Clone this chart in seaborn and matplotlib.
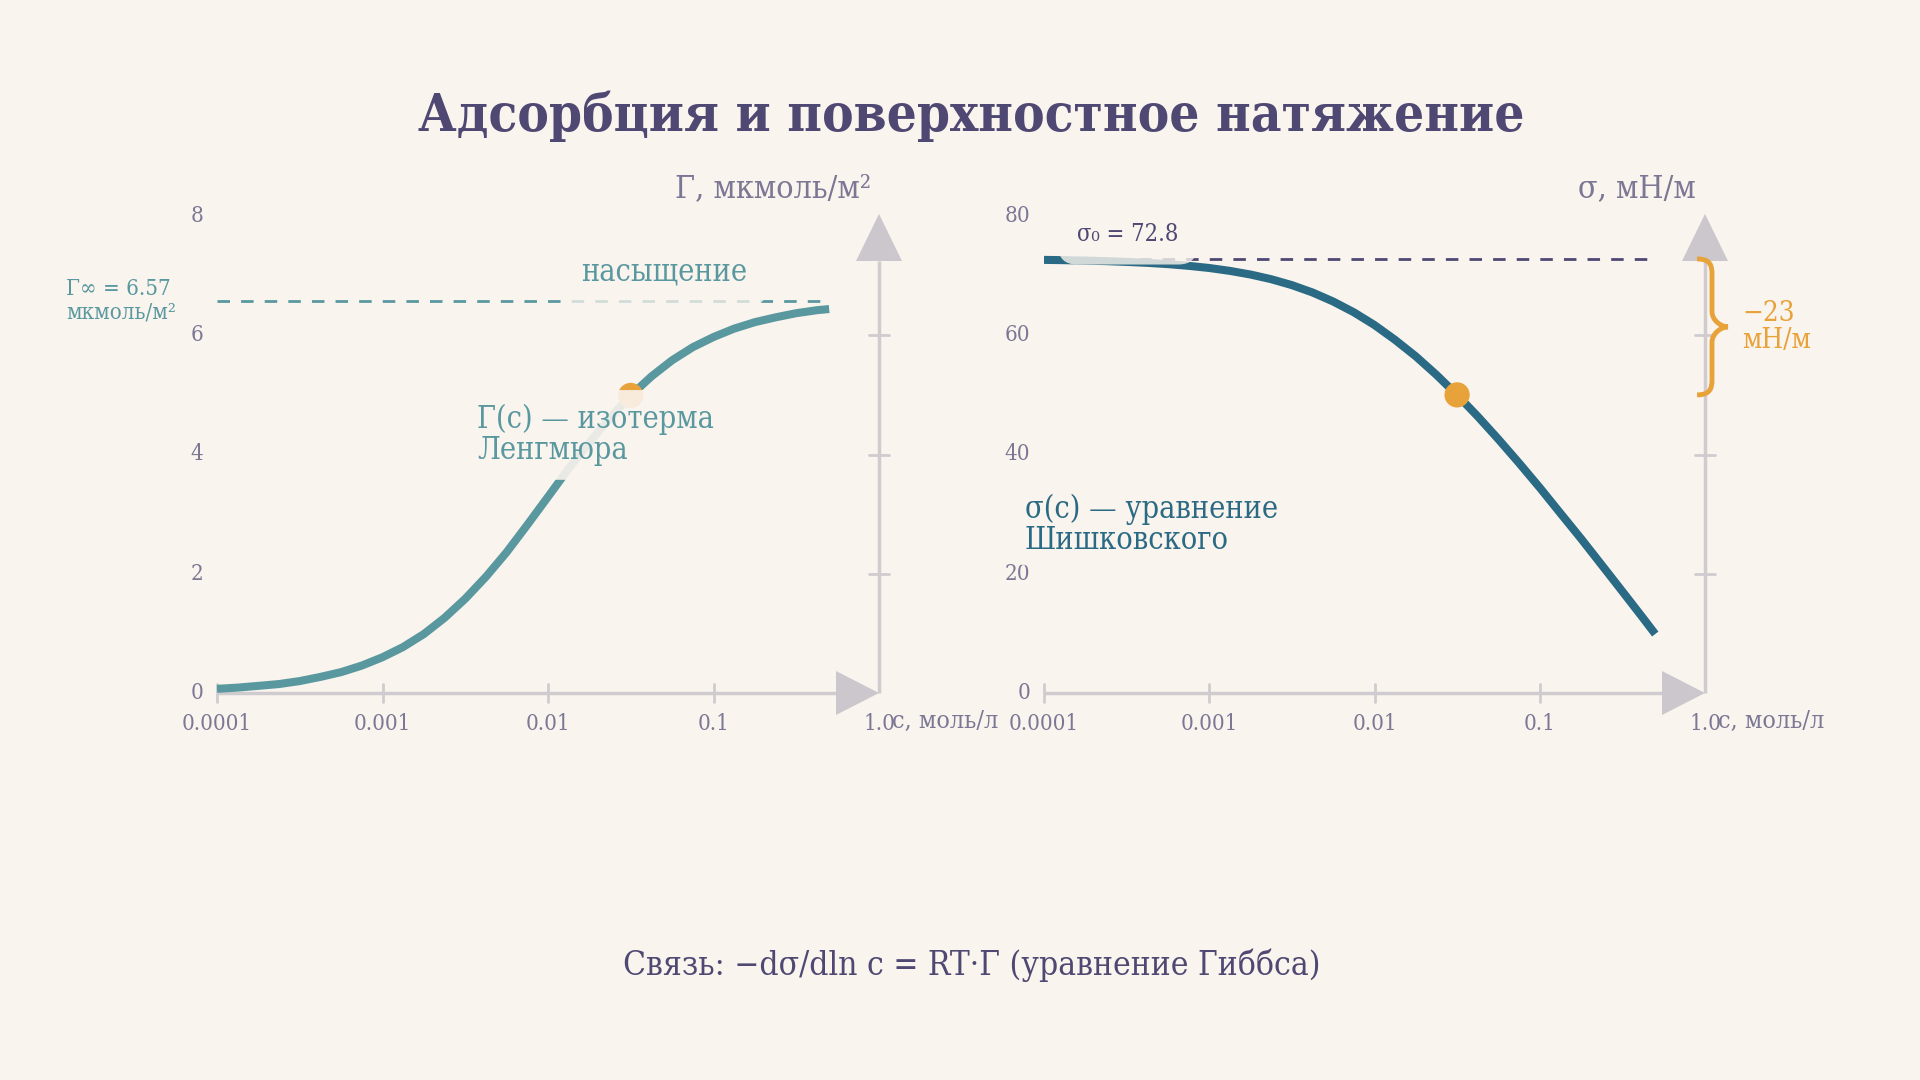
import seaborn as sns
import matplotlib.pyplot as plt
import matplotlib.transforms as mtransforms
from matplotlib.path import Path
from matplotlib.patches import PathPatch, Polygon

# --- данные ---
conc = [0.0001, 0.000133, 0.000178, 0.000237, 0.000316, 0.000422, 0.000562, 0.00075,
        0.001, 0.00133, 0.00178, 0.00237, 0.00316, 0.00422, 0.00562, 0.0075,
        0.01, 0.0133, 0.0178, 0.0237, 0.0316, 0.0422, 0.0562, 0.075,
        0.1, 0.133, 0.178, 0.237, 0.316, 0.422, 0.5]
gamma = [0.07, 0.09, 0.12, 0.15, 0.20, 0.27, 0.35, 0.46,
         0.60, 0.77, 0.99, 1.26, 1.58, 1.95, 2.36, 2.82,
         3.29, 3.76, 4.20, 4.62, 4.99, 5.31, 5.58, 5.80,
         5.97, 6.11, 6.22, 6.30, 6.37, 6.42, 6.44]
sigma = [72.64, 72.59, 72.52, 72.43, 72.30, 72.14, 71.93, 71.64,
         71.28, 70.80, 70.18, 69.40, 68.41, 67.17, 65.66, 63.85,
         61.71, 59.24, 56.45, 53.36, 49.99, 46.37, 42.56, 38.56,
         34.44, 30.19, 25.87, 21.48, 17.05, 12.56, 9.89]

gamma_inf = 6.57
sigma_0 = 72.8
c_point = 0.0316
gamma_point = 4.99
sigma_point = 50.0

x_ticks = [0.0001, 0.001, 0.01, 0.1, 1.0]
x_tick_labels = ['0.0001', '0.001', '0.01', '0.1', '1.0']
gamma_ticks = [0, 2, 4, 6, 8]
sigma_ticks = [0, 20, 40, 60, 80]

# --- цвета ---
BG = '#FAF4EE'
TITLE = '#4E4873'
TICK = '#7B7794'
TEAL = '#5A989F'
BLUE = '#2B6A84'
ORANGE = '#E8A23A'
AXIS = '#CFCBCF'
ARROW = '#CBC7CC'

sns.set_theme(style='white', rc={'figure.facecolor': BG, 'axes.facecolor': BG})
plt.rcParams['font.family'] = ['DejaVu Serif', 'DejaVu Sans']
plt.rcParams['font.stretch'] = 'condensed'

fig = plt.figure(figsize=(19.2, 10.8), dpi=100)
ax1 = fig.add_axes([217 / 1920, 387 / 1080, 662 / 1920, 477 / 1080])
ax2 = fig.add_axes([1044 / 1920, 387 / 1080, 661 / 1920, 477 / 1080])

halo = dict(boxstyle='round,pad=0.3', fc=BG, ec='none', alpha=0.85)


def oformit_osi(ax, yticks, px_w):
    ax.set_xscale('log')
    ax.set_xlim(x_ticks[0], x_ticks[-1])
    ax.set_ylim(yticks[0], yticks[-1])
    ax.axis('off')
    dx = 1 / px_w
    dy = 1 / 477
    # оси со стрелками
    ax.plot([0, 1 - 43 * dx], [0, 0], transform=ax.transAxes, color=AXIS, lw=2.5,
            clip_on=False, solid_capstyle='butt', zorder=1)
    ax.plot([1, 1], [0, 1 - 45 * dy], transform=ax.transAxes, color=AXIS, lw=2.5,
            clip_on=False, solid_capstyle='butt', zorder=1)
    ax.add_patch(Polygon([[1, 0], [1 - 43 * dx, 22 * dy], [1 - 43 * dx, -22 * dy]],
                         closed=True, transform=ax.transAxes, fc=ARROW, ec='none',
                         clip_on=False, zorder=1))
    ax.add_patch(Polygon([[1, 1 + 2 * dy], [1 - 23 * dx, 1 - 45 * dy], [1 + 23 * dx, 1 - 45 * dy]],
                         closed=True, transform=ax.transAxes, fc=ARROW, ec='none',
                         clip_on=False, zorder=1))
    # засечки
    bx = mtransforms.blended_transform_factory(ax.transData, ax.transAxes)
    by = mtransforms.blended_transform_factory(ax.transAxes, ax.transData)
    for t in x_ticks[:-1]:
        ax.plot([t, t], [-9 * dy, 9 * dy], transform=bx, color=AXIS, lw=2,
                clip_on=False, zorder=1)
    for t in yticks[1:-1]:
        ax.plot([1 - 10 * dx, 1 + 10 * dx], [t, t], transform=by, color=AXIS, lw=2,
                clip_on=False, zorder=1)
    # подписи
    for t, lab in zip(x_ticks, x_tick_labels):
        ax.text(t, -31 * dy, lab, transform=bx, ha='center', va='center', fontsize=16,
                color=TICK, bbox=halo, zorder=5)
    for t in yticks:
        ax.text(-14 * dx, t, str(t), transform=by, ha='right', va='center', fontsize=16,
                color=TICK, bbox=halo, zorder=5)
    ax.text(1 + 13 * dx, -28 * dy, 'c, моль/л', transform=ax.transAxes, ha='left',
            va='center', fontsize=18, color=TICK, zorder=5)


# --- левая панель: адсорбция ---
oformit_osi(ax1, gamma_ticks, 662)
sns.lineplot(x=conc, y=gamma, ax=ax1, color=TEAL, lw=5.8, zorder=3,
             solid_joinstyle='round', solid_capstyle='butt')
ax1.plot([conc[0], conc[-1]], [gamma_inf, gamma_inf], color=TEAL, lw=2,
         dashes=(4.5, 4), zorder=2)
sns.scatterplot(x=[c_point], y=[gamma_point], ax=ax1, s=330, color=ORANGE,
                edgecolor='none', zorder=4)
ax1.text(0.988, 1.057, 'Γ, мкмоль/м²', transform=ax1.transAxes, ha='right', va='center',
         fontsize=23, color=TICK, zorder=5)
ax1.text(0.675, 0.883, 'насыщение', transform=ax1.transAxes, ha='center', va='center',
         fontsize=22, color=TEAL, zorder=6,
         bbox=dict(boxstyle='round,pad=0.65', fc=BG, ec='none', alpha=0.75))
ax1.text(-0.228, 0.822, f'Γ∞ = {gamma_inf}\nмкмоль/м²', transform=ax1.transAxes,
         ha='left', va='center', fontsize=16, color=TEAL, linespacing=1.05, zorder=6,
         bbox=halo)
ax1.text(0.393, 0.541, 'Γ(c) — изотерма\nЛенгмюра', transform=ax1.transAxes,
         ha='left', va='center', fontsize=22, color=TEAL, linespacing=1.0, zorder=6,
         bbox=dict(boxstyle='round,pad=0.45', fc=BG, ec='none', alpha=0.9))

# --- правая панель: поверхностное натяжение ---
oformit_osi(ax2, sigma_ticks, 661)
sns.lineplot(x=conc, y=sigma, ax=ax2, color=BLUE, lw=5.8, zorder=3,
             solid_joinstyle='round', solid_capstyle='butt')
ax2.plot([conc[0], conc[-1]], [sigma_0, sigma_0], color=TITLE, lw=2,
         dashes=(4.5, 4), zorder=2)
sns.scatterplot(x=[c_point], y=[sigma_point], ax=ax2, s=330, color=ORANGE,
                edgecolor='none', zorder=4)
ax2.text(0.986, 1.057, 'σ, мН/м', transform=ax2.transAxes, ha='right', va='center',
         fontsize=23, color=TICK, zorder=5)
ax2.text(0.05, 0.962, f'σ₀ = {sigma_0}', transform=ax2.transAxes, ha='left',
         va='center', fontsize=17, color=TITLE, zorder=6,
         bbox=dict(boxstyle='round,pad=0.8', fc=BG, ec='none', alpha=0.8))
ax2.text(-0.029, 0.352, 'σ(c) — уравнение\nШишковского', transform=ax2.transAxes,
         ha='left', va='center', fontsize=22, color=BLUE, linespacing=1.0, zorder=6,
         bbox=halo)

# фигурная скобка: падение натяжения
by2 = mtransforms.blended_transform_factory(ax2.transAxes, ax2.transData)
x0, x1, x2 = 0.988, 1.0106, 1.0348
yt, yb = sigma_0, sigma_point
ym = (yt + yb) / 2
r = 2.6
verts = [(x0, yt),
         (x1 - 0.003, yt), (x1, yt - r * 0.4), (x1, yt - r),
         (x1, ym + r),
         (x1, ym + r * 0.4), (x2 - 0.01, ym), (x2, ym),
         (x2 - 0.01, ym), (x1, ym - r * 0.4), (x1, ym - r),
         (x1, yb + r),
         (x1, yb + r * 0.4), (x1 - 0.003, yb), (x0, yb)]
codes = [Path.MOVETO,
         Path.CURVE4, Path.CURVE4, Path.CURVE4,
         Path.LINETO,
         Path.CURVE4, Path.CURVE4, Path.CURVE4,
         Path.CURVE4, Path.CURVE4, Path.CURVE4,
         Path.LINETO,
         Path.CURVE4, Path.CURVE4, Path.CURVE4]
ax2.add_patch(PathPatch(Path(verts, codes), transform=by2, fc='none', ec=ORANGE,
                        lw=3.5, clip_on=False, zorder=4))
ax2.text(1.056, 0.767, f'−{sigma_0 - sigma_point:.0f}\nмН/м', transform=ax2.transAxes,
         ha='left', va='center', fontsize=20, color=ORANGE, linespacing=1.0, zorder=6)

# --- заголовок и подпись ---
fig.text(0.506, 1 - 116 / 1080, 'Адсорбция и поверхностное натяжение', ha='center',
         va='center', fontsize=38, fontweight='bold', color=TITLE)
fig.text(0.506, 1 - 965 / 1080, 'Связь: −dσ/dln c = RT·Γ (уравнение Гиббса)',
         ha='center', va='center', fontsize=24, color=TITLE)

fig.savefig('out.png', dpi=100, facecolor=BG)
